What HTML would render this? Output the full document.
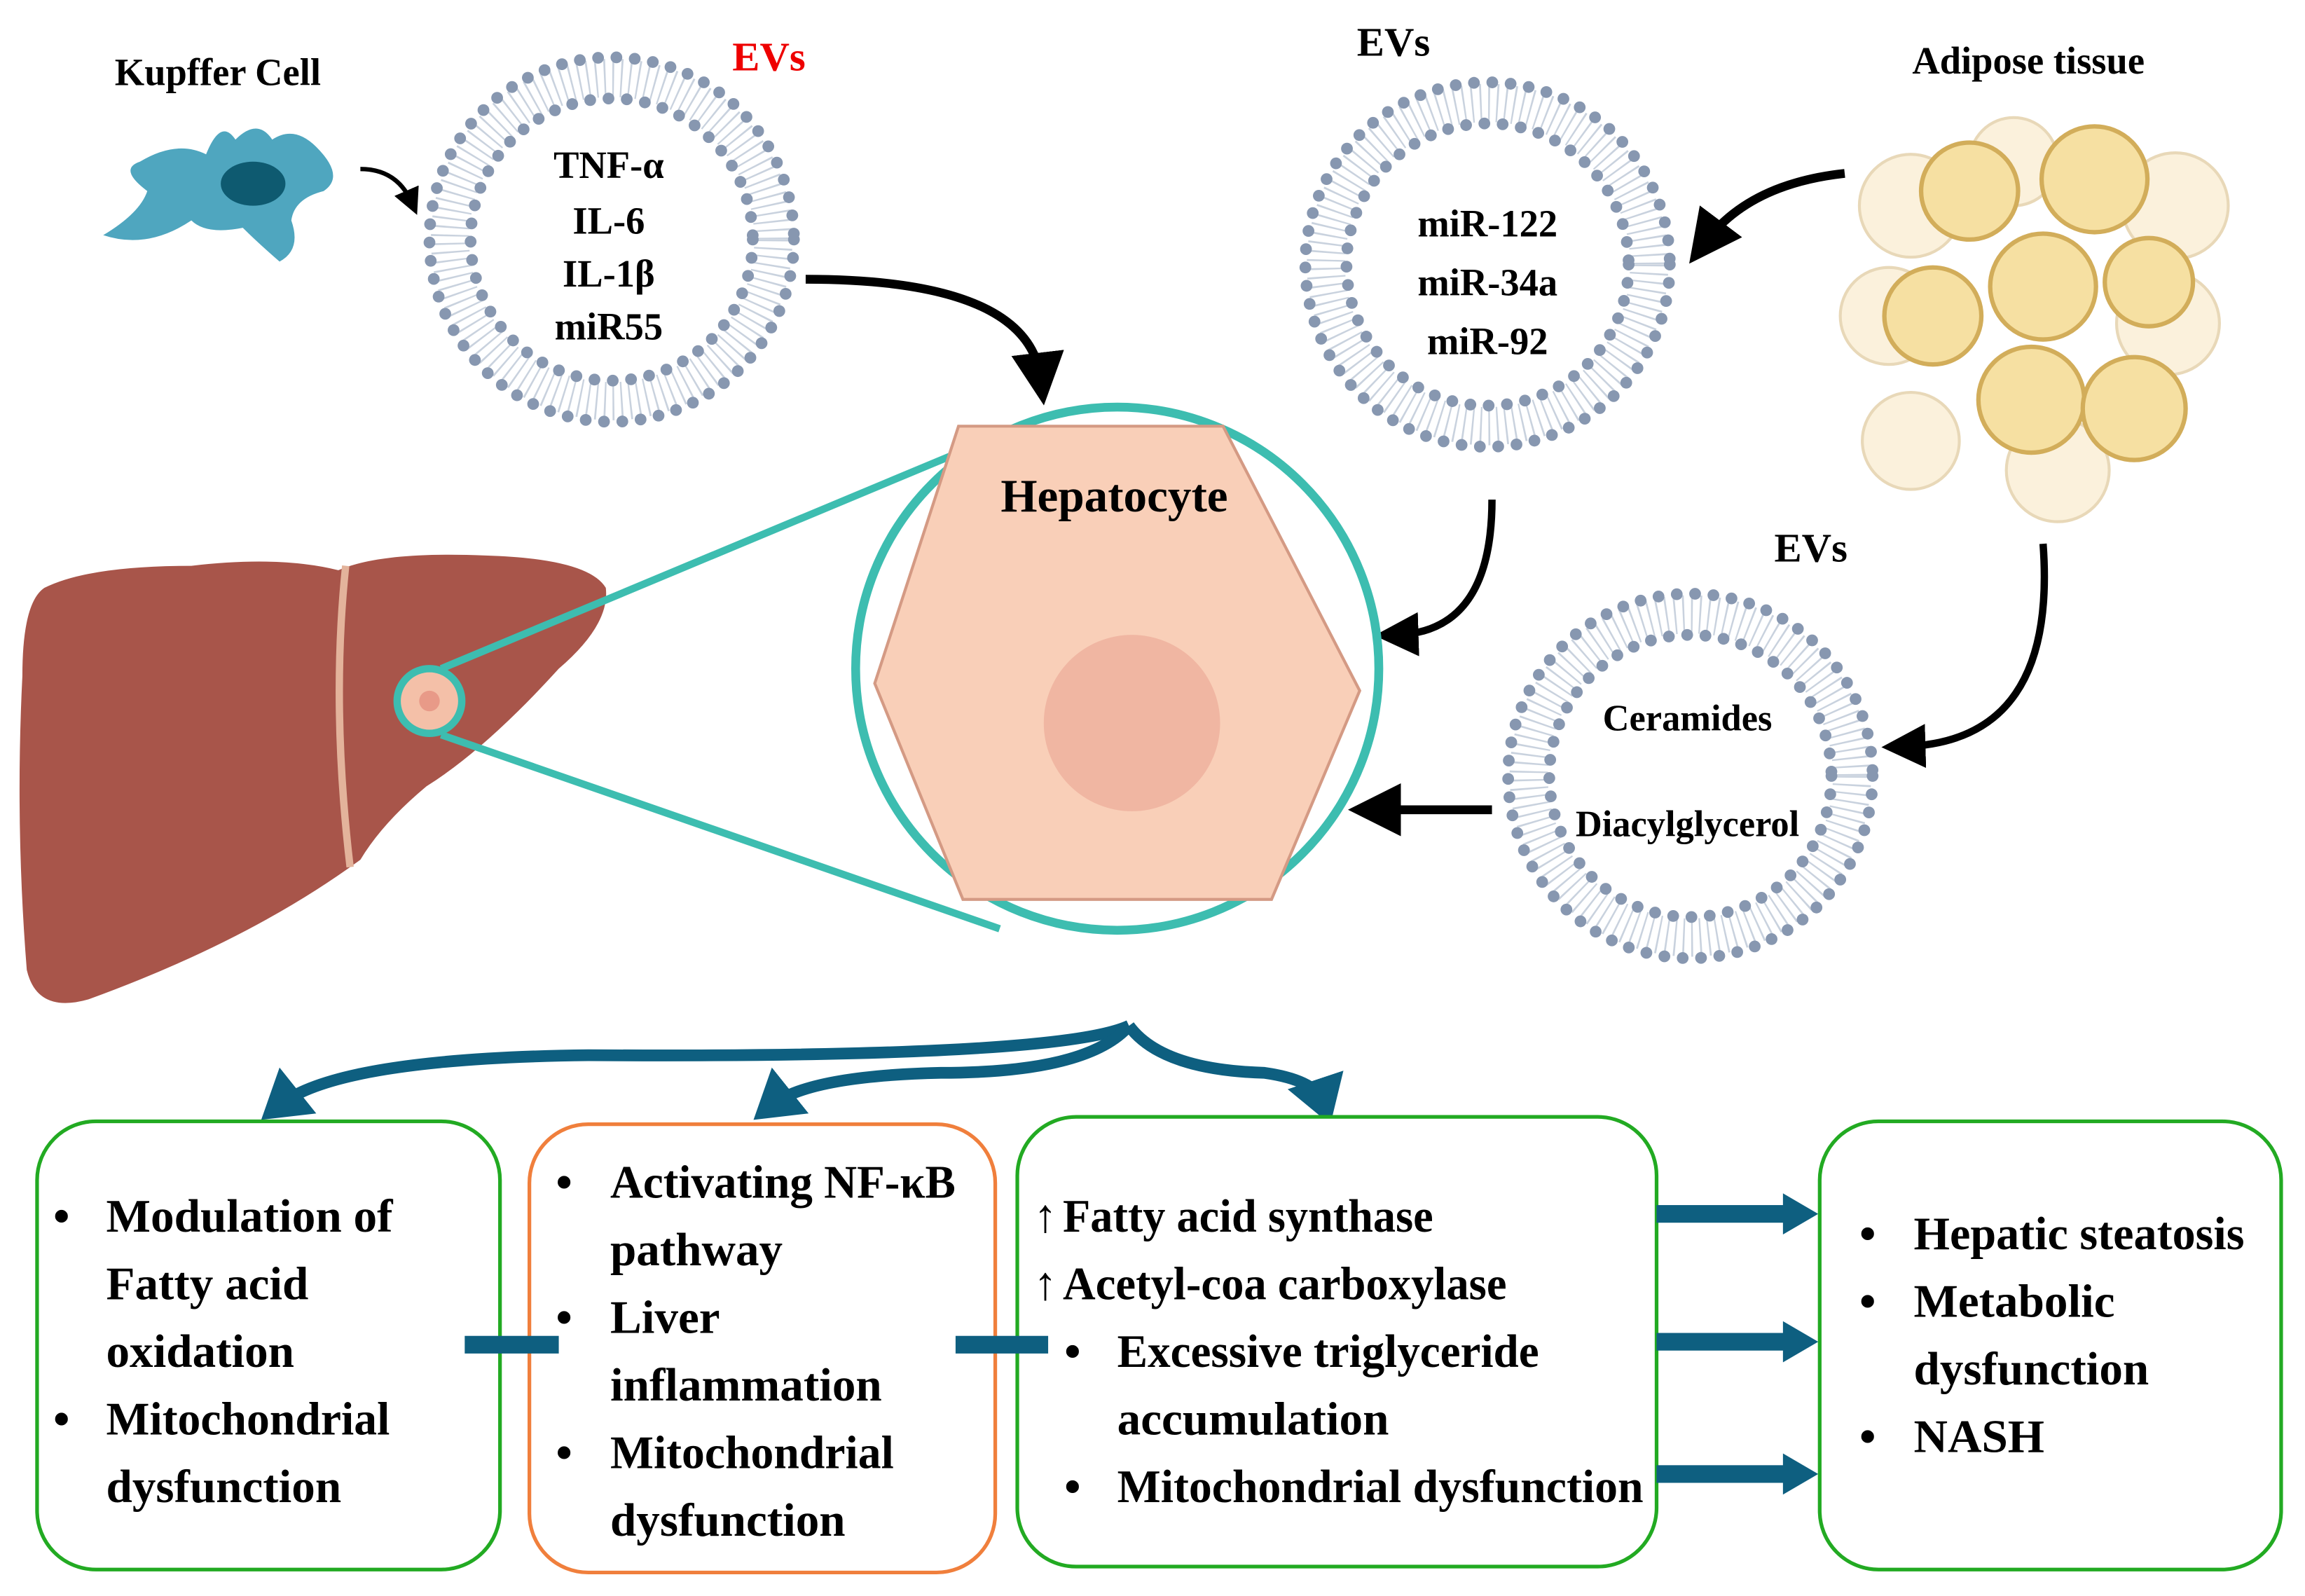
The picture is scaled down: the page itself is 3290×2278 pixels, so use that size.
<!DOCTYPE html>
<html><head><meta charset="utf-8"><style>html,body{margin:0;padding:0;background:#fff}svg{display:block}</style></head><body>
<svg width="3290" height="2278" viewBox="0 0 1568 1086" xmlns="http://www.w3.org/2000/svg" font-family="'Liberation Serif',serif" font-weight="bold">
<defs>
<g id="ev">
<circle r="110" fill="none" stroke="#c9d2de" stroke-width="26" stroke-dasharray="1.2 4.5"/>
<circle r="124" fill="none" stroke="#8797b0" stroke-width="8" stroke-linecap="round" stroke-dasharray="0 12.5"/>
<circle r="96" fill="none" stroke="#8797b0" stroke-width="8" stroke-linecap="round" stroke-dasharray="0 12.5"/>
</g>
<marker id="ab" markerWidth="6" markerHeight="6" refX="3" refY="3" orient="auto" markerUnits="strokeWidth"><path d="M0,0 L6,3 L0,6 z" fill="#000"/></marker>
<marker id="ad" markerWidth="4" markerHeight="5" refX="2" refY="2.5" orient="auto" markerUnits="strokeWidth"><path d="M0,0 L4,2.5 L0,5 z" fill="#0e5f80"/></marker>
</defs>

<text x="148" y="58" font-size="26" text-anchor="middle">Kupffer Cell</text>
<path d="M95,110 Q120,95 140,105 Q150,80 160,95 Q175,80 185,95 Q200,85 215,100 Q235,120 220,130 Q200,135 198,150 Q205,170 190,178 Q175,165 165,155 Q140,160 130,150 Q100,170 70,160 Q95,145 100,130 Q80,115 95,110 Z" fill="#4fa6bf"/>
<ellipse cx="172" cy="125" rx="22" ry="15" fill="#0e5a70"/>
<path d="M245,115 Q270,115 280,138" fill="none" stroke="#000" stroke-width="3" marker-end="url(#ab)"/>

<use href="#ev" x="416" y="163"/>
<text x="523" y="48" font-size="28" fill="#e00" text-anchor="middle">EVs</text>
<g font-size="26" text-anchor="middle"><text x="414" y="121">TNF-α</text><text x="414" y="159">IL-6</text><text x="414" y="195">IL-1β</text><text x="414" y="231">miR55</text></g>
<path d="M548,190 Q700,190 708,258" fill="none" stroke="#000" stroke-width="6" marker-end="url(#ab)"/>

<use href="#ev" x="1012" y="180"/>
<text x="948" y="38" font-size="28" text-anchor="middle">EVs</text>
<g font-size="26" text-anchor="middle"><text x="1012" y="161">miR-122</text><text x="1012" y="201">miR-34a</text><text x="1012" y="241">miR-92</text></g>

<text x="1380" y="50" font-size="26" text-anchor="middle">Adipose tissue</text>
<g stroke="#e8d8b8" stroke-width="2" fill="#fbf1dc">
<circle cx="1300" cy="140" r="35"/><circle cx="1480" cy="140" r="36"/><circle cx="1285" cy="215" r="33"/><circle cx="1475" cy="220" r="35"/><circle cx="1300" cy="300" r="33"/><circle cx="1400" cy="320" r="35"/><circle cx="1370" cy="110" r="30"/><circle cx="1450" cy="280" r="30"/>
</g>
<g stroke="#d2ad5a" stroke-width="3" fill="#f6e0a2">
<circle cx="1340" cy="130" r="33"/><circle cx="1425" cy="122" r="36"/><circle cx="1315" cy="215" r="33"/><circle cx="1390" cy="195" r="36"/><circle cx="1462" cy="192" r="30"/><circle cx="1382" cy="272" r="36"/><circle cx="1452" cy="278" r="35"/>
</g>
<path d="M1255,118 Q1190,125 1160,165" fill="none" stroke="#000" stroke-width="6" marker-end="url(#ab)"/>
<path d="M1015,340 Q1015,430 950,432" fill="none" stroke="#000" stroke-width="5" marker-end="url(#ab)"/>
<path d="M1390,370 Q1400,505 1295,508" fill="none" stroke="#000" stroke-width="5" marker-end="url(#ab)"/>

<use href="#ev" x="1150" y="528"/>
<text x="1232" y="382" font-size="28" text-anchor="middle">EVs</text>
<g font-size="25" text-anchor="middle"><text x="1148" y="497">Ceramides</text><text x="1148" y="569">Diacylglycerol</text></g>
<path d="M1015,551 L935,551" fill="none" stroke="#000" stroke-width="6" marker-end="url(#ab)"/>

<path d="M30,400 Q60,385 130,385 Q190,378 230,388 Q260,375 330,378 Q400,380 412,400 Q415,425 380,455 Q330,510 290,535 Q260,560 245,585 Q170,640 60,680 Q25,690 18,660 Q10,560 15,460 Q15,410 30,400 Z" fill="#a8554a"/>
<path d="M235,385 Q225,480 238,590" fill="none" stroke="#e3b39b" stroke-width="5"/>
<path d="M300,455 L700,288 M300,500 L680,632" stroke="#3dbdb0" stroke-width="5"/>
<circle cx="292" cy="477" r="22" fill="#f4c0a8" stroke="#3dbdb0" stroke-width="5"/>
<circle cx="292" cy="477" r="7" fill="#e89a88"/>

<circle cx="760" cy="455" r="178" fill="#fff" stroke="#3dbdb0" stroke-width="6"/>
<path d="M652,290 L832,290 L925,470 L865,612 L655,612 L595,465 Z" fill="#f9cfb8" stroke="#d49a84" stroke-width="2"/>
<circle cx="770" cy="492" r="60" fill="#f0b6a2"/>
<text x="758" y="348" font-size="32" text-anchor="middle">Hepatocyte</text>

<g fill="none" stroke="#0e5f80" stroke-width="8">
<path d="M768,698 Q720,720 400,718 Q230,720 190,752" marker-end="url(#ad)"/>
<path d="M768,698 Q740,730 640,730 Q550,732 525,752" marker-end="url(#ad)"/>
<path d="M768,698 Q790,728 860,730 Q895,735 900,750" marker-end="url(#ad)"/>
</g>

<g fill="#fff" stroke-width="2.5">
<rect x="25" y="763" width="315" height="305" rx="40" stroke="#22aa22"/>
<rect x="360" y="765" width="317" height="305" rx="40" stroke="#f07f3c"/>
<rect x="692" y="760" width="435" height="306" rx="40" stroke="#22aa22"/>
<rect x="1238" y="763" width="314" height="305" rx="40" stroke="#22aa22"/>
</g>
<g fill="#0e5f80">
<rect x="316" y="909" width="64" height="12"/><rect x="650" y="909" width="63" height="12"/>
<rect x="1127" y="820" width="88" height="12"/><path d="M1213,812 L1237,826 L1213,840 Z"/>
<rect x="1127" y="907" width="88" height="12"/><path d="M1213,899 L1237,913 L1213,927 Z"/>
<rect x="1127" y="997" width="88" height="12"/><path d="M1213,989 L1237,1003 L1213,1017 Z"/>
</g>
<g font-size="32">
<text x="36" y="838">•</text><text x="72" y="838" textLength="195" lengthAdjust="spacingAndGlyphs">Modulation of</text>
<text x="72" y="884">Fatty acid</text><text x="72" y="930">oxidation</text>
<text x="36" y="976">•</text><text x="72" y="976" textLength="193" lengthAdjust="spacingAndGlyphs">Mitochondrial</text>
<text x="72" y="1022">dysfunction</text>

<text x="378" y="815">•</text><text x="415" y="815" textLength="235" lengthAdjust="spacingAndGlyphs">Activating NF-κB</text>
<text x="415" y="861">pathway</text>
<text x="378" y="907">•</text><text x="415" y="907">Liver</text>
<text x="415" y="953">inflammation</text>
<text x="378" y="999">•</text><text x="415" y="999" textLength="193" lengthAdjust="spacingAndGlyphs">Mitochondrial</text>
<text x="415" y="1045">dysfunction</text>

<text x="703" y="838">↑</text><text x="723" y="838" textLength="252" lengthAdjust="spacingAndGlyphs">Fatty acid synthase</text>
<text x="703" y="884">↑</text><text x="723" y="884" textLength="302" lengthAdjust="spacingAndGlyphs">Acetyl-coa carboxylase</text>
<text x="724" y="930">•</text><text x="760" y="930" textLength="287" lengthAdjust="spacingAndGlyphs">Excessive triglyceride</text>
<text x="760" y="976">accumulation</text>
<text x="724" y="1022">•</text><text x="760" y="1022" textLength="358" lengthAdjust="spacingAndGlyphs">Mitochondrial dysfunction</text>

<text x="1265" y="850">•</text><text x="1302" y="850" textLength="225" lengthAdjust="spacingAndGlyphs">Hepatic steatosis</text>
<text x="1265" y="896">•</text><text x="1302" y="896">Metabolic</text>
<text x="1302" y="942">dysfunction</text>
<text x="1265" y="988">•</text><text x="1302" y="988">NASH</text>
</g>
</svg>
</body></html>
